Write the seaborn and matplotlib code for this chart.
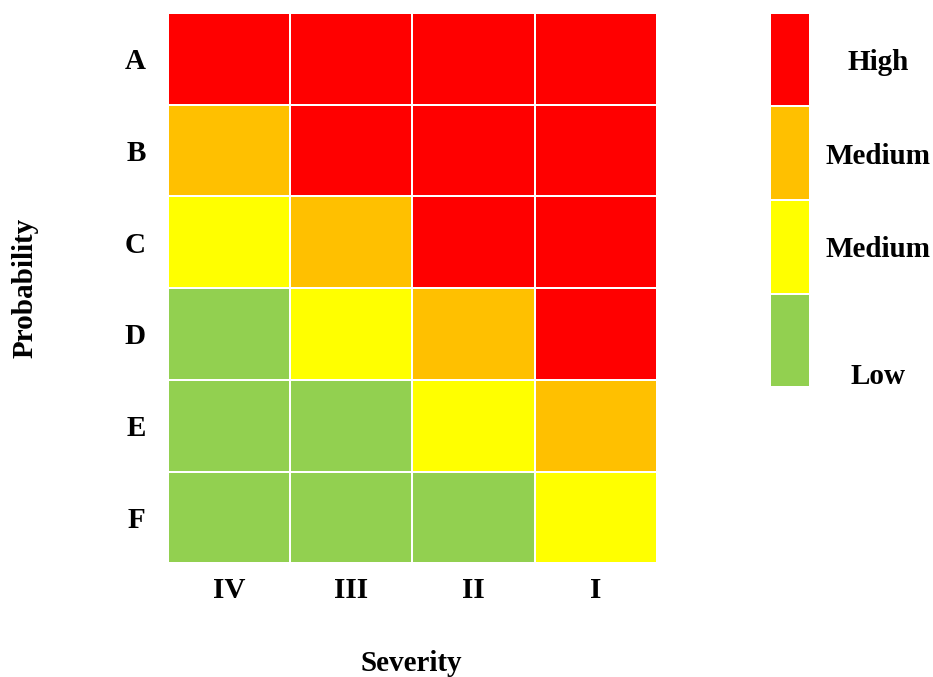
import numpy as np
import pandas as pd
import matplotlib
matplotlib.use("Agg")
import matplotlib.pyplot as plt
import seaborn as sns
from matplotlib.colors import ListedColormap

# risk matrix data
probability = ['A', 'B', 'C', 'D', 'E', 'F']
severity = ['IV', 'III', 'II', 'I']
# 0 = low, 1 = medium (yellow), 2 = medium (orange), 3 = high
risk = [[3, 3, 3, 3],
        [2, 3, 3, 3],
        [1, 2, 3, 3],
        [0, 1, 2, 3],
        [0, 0, 1, 2],
        [0, 0, 0, 1]]

level_colors = ['#92D050', '#FFFF00', '#FFC000', '#FF0000']
legend_levels = [3, 2, 1, 0]
legend_labels = ['High', 'Medium', 'Medium', 'Low']

sns.set_style('white')
plt.rcParams['font.family'] = ['Liberation Serif', 'DejaVu Serif']
plt.rcParams['font.weight'] = 'bold'
plt.rcParams['text.color'] = 'black'
plt.rcParams['xtick.color'] = 'black'
plt.rcParams['ytick.color'] = 'black'
plt.rcParams['axes.labelcolor'] = 'black'

cmap = ListedColormap(level_colors)
df = pd.DataFrame(risk, index=probability, columns=severity)

fig = plt.figure(figsize=(9.33, 6.77), dpi=100)
ax = fig.add_axes([0.180, 0.168, 0.524, 0.813])
sns.heatmap(df, ax=ax, cmap=cmap, vmin=-0.5, vmax=3.5, cbar=False,
            linewidths=1.4, linecolor='white')
ax.tick_params(axis='both', length=0, labelsize=21)
ax.tick_params(axis='y', pad=16, rotation=0)
ax.tick_params(axis='x', pad=10)
for lab in ax.get_xticklabels() + ax.get_yticklabels():
    lab.set_fontweight('bold')
for lab in ax.get_yticklabels():
    lab.set_va('center_baseline')
ax.set_xlabel('Severity', fontsize=21, fontweight='bold')
ax.set_ylabel('Probability', fontsize=21, fontweight='bold')
ax.xaxis.set_label_coords(0.498, -0.158)
ax.yaxis.set_label_coords(-0.265, 0.5)

# legend blocks
lax = fig.add_axes([0.825, 0.428, 0.043, 0.553])
leg = pd.DataFrame({'level': legend_levels}, index=legend_labels)
sns.heatmap(leg, ax=lax, cmap=cmap, vmin=-0.5, vmax=3.5, cbar=False,
            linewidths=1.4, linecolor='white', xticklabels=False, yticklabels=False)
label_pos = [0.5, 1.5, 2.5, 3.85]
for y, txt in zip(label_pos, legend_labels):
    lax.text(2.7, y, txt, transform=lax.transData, ha='center', va='center_baseline',
             fontsize=21, fontweight='bold')
lax.set_xlabel('')
lax.set_ylabel('')

fig.savefig('out.png', dpi=100)
